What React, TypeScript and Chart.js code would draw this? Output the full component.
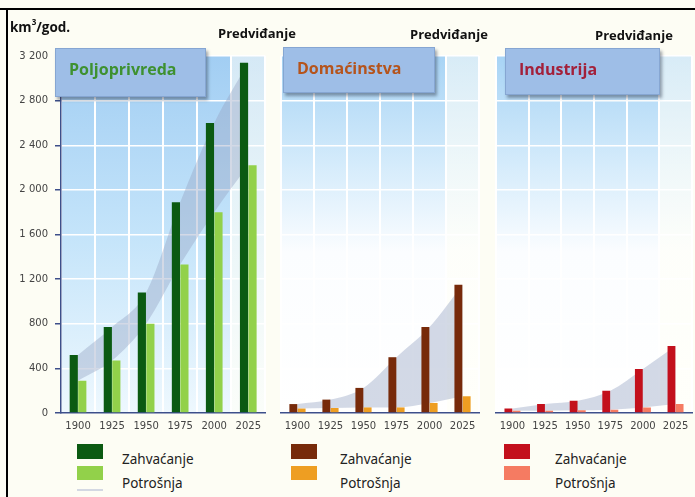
import React, { useEffect, useRef } from 'react';
import { Chart, registerables } from 'chart.js';

Chart.register(...registerables);

const years = ['1900', '1925', '1950', '1975', '2000', '2025'];
const yTickLabels = ['0', '400', '800', '1 200', '1 600', '2 000', '2 400', '2 800', '3 200'];

const agriWithdrawal = [520, 770, 1080, 1890, 2600, 3140];
const agriConsumption = [290, 470, 800, 1330, 1800, 2220];
const domWithdrawal = [80, 120, 225, 500, 770, 1150];
const domConsumption = [40, 45, 50, 50, 90, 150];
const indWithdrawal = [40, 80, 110, 200, 395, 600];
const indConsumption = [20, 20, 25, 30, 50, 80];

const panelTitles = ['Poljoprivreda', 'Domaćinstva', 'Industrija'];
const seriesNames = ['Zahvaćanje', 'Potrošnja'];
const forecastLabel = 'Predviđanje';

type Stop = [number, string];

function bgPlugin(stops: Stop[]) {
  return {
    id: 'panelBg',
    beforeDraw(chart: any) {
      const { ctx, chartArea } = chart;
      const { left, top, right, bottom } = chartArea;
      const g = ctx.createLinearGradient(0, top, 0, bottom);
      stops.forEach(([o, c]) => g.addColorStop(o, c));
      ctx.save();
      ctx.fillStyle = g;
      ctx.fillRect(left, top, right - left, bottom - top);
      const w = (right - left) / years.length;
      const g2 = ctx.createLinearGradient(0, top, 0, bottom);
      g2.addColorStop(0, 'rgba(255,255,248,0.55)');
      g2.addColorStop(1, 'rgba(255,255,248,0.75)');
      ctx.fillStyle = g2;
      ctx.fillRect(right - w, top, w, bottom - top);
      ctx.restore();
    },
  };
}

type PanelProps = {
  left: number;
  width: number;
  yAxisWidth: number;
  showY: boolean;
  withdrawal: number[];
  consumption: number[];
  zColor: string;
  pColor: string;
  stops: Stop[];
};

const H = 440;
const AXIS = '#3d4f8a';
const tickFont = { family: "'DejaVu Sans', sans-serif", size: 10 };

function Panel(p: PanelProps) {
  const ref = useRef<HTMLCanvasElement>(null);
  useEffect(() => {
    if (!ref.current) return;
    const chart = new Chart(ref.current, {
      type: 'bar',
      data: {
        labels: years,
        datasets: [
          {
            type: 'bar',
            label: seriesNames[0],
            data: p.withdrawal,
            backgroundColor: p.zColor,
            order: 1,
            categoryPercentage: 0.5,
            barPercentage: 0.96,
          } as any,
          {
            type: 'bar',
            label: seriesNames[1],
            data: p.consumption,
            backgroundColor: p.pColor,
            order: 1,
            categoryPercentage: 0.5,
            barPercentage: 0.96,
          } as any,
          {
            type: 'line',
            data: p.withdrawal,
            borderColor: 'transparent',
            borderWidth: 0,
            pointRadius: 0,
            cubicInterpolationMode: 'monotone',
            fill: false,
            order: 3,
          } as any,
          {
            type: 'line',
            data: p.consumption,
            borderColor: 'transparent',
            borderWidth: 0,
            pointRadius: 0,
            cubicInterpolationMode: 'monotone',
            fill: '-1',
            backgroundColor: 'rgba(150,165,195,0.42)',
            order: 2,
          } as any,
        ],
      },
      options: {
        animation: false,
        responsive: false,
        layout: { padding: { top: 56, left: 0, right: 0, bottom: 0 } },
        plugins: { legend: { display: false }, tooltip: { enabled: false } },
        scales: {
          x: {
            grid: { color: '#ffffff', lineWidth: 2, offset: true, drawTicks: false },
            border: { color: AXIS, width: 1.5 },
            ticks: { font: tickFont, color: '#444', padding: 7 },
            afterFit: (s: any) => {
              s.height = H - 413;
            },
          },
          y: {
            min: 0,
            max: 3200,
            ticks: {
              stepSize: 400,
              display: p.showY,
              font: tickFont,
              color: '#444',
              padding: 7,
              callback: (_v: any, i: number) => yTickLabels[i],
            },
            grid: {
              color: '#ffffff',
              lineWidth: 1.5,
              drawTicks: p.showY,
              tickLength: 6,
              tickColor: AXIS,
            },
            border: { display: p.showY, color: AXIS, width: 1.5 },
            afterFit: (s: any) => {
              s.width = p.yAxisWidth;
            },
          },
        },
      } as any,
      plugins: [bgPlugin(p.stops)],
    });
    return () => chart.destroy();
  }, []);
  return (
    <canvas
      ref={ref}
      width={p.width}
      height={H}
      style={{ position: 'absolute', left: p.left, top: 0, width: p.width, height: H }}
    />
  );
}

const blue1: Stop[] = [
  [0, '#a2cef3'],
  [0.5, '#c4e4fa'],
  [1, '#eef8fe'],
];
const blue2: Stop[] = [
  [0, '#a8d4f5'],
  [0.3, '#d4ebfb'],
  [0.55, '#fbfdff'],
  [1, '#ffffff'],
];

function TitleBox(props: { left: number; top: number; w: number; h: number; text: string; color: string }) {
  return (
    <div
      style={{
        position: 'absolute',
        left: props.left,
        top: props.top,
        width: props.w,
        height: props.h,
        background: '#9ebee7',
        border: '1px solid #86a6d2',
        boxShadow: '2px 3px 3px rgba(40,50,70,0.45)',
        boxSizing: 'border-box',
        color: props.color,
        fontFamily: "'Open Sans', sans-serif",
        fontWeight: 700,
        fontSize: 16,
        paddingLeft: 13,
        paddingTop: 9,
        lineHeight: '22px',
        zIndex: 2,
      }}
    >
      {props.text}
    </div>
  );
}

function Legend(props: { sx: number; tx: number; z: string; pc: string; line?: boolean }) {
  const txt = {
    position: 'absolute' as const,
    left: props.tx,
    fontFamily: "'Noto Sans', sans-serif",
    fontSize: 13.5,
    color: '#222',
    lineHeight: '16px',
  };
  return (
    <>
      <div style={{ position: 'absolute', left: props.sx, top: 444, width: 26, height: 15, background: props.z }} />
      <div style={{ position: 'absolute', left: props.sx, top: 466, width: 26, height: 14, background: props.pc }} />
      {props.line && (
        <div style={{ position: 'absolute', left: props.sx, top: 489, width: 26, height: 2, background: '#d3d8e2' }} />
      )}
      <div style={{ ...txt, top: 451 }}>{seriesNames[0]}</div>
      <div style={{ ...txt, top: 475 }}>{seriesNames[1]}</div>
    </>
  );
}

export default function App() {
  useEffect(() => {
    document.body.style.margin = '0';
  }, []);
  const label = {
    position: 'absolute' as const,
    fontFamily: "'Open Sans', sans-serif",
    fontWeight: 700,
    fontSize: 13,
    color: '#111',
    zIndex: 2,
    lineHeight: '16px',
  };
  return (
    <div
      style={{
        position: 'relative',
        width: 695,
        height: 497,
        background: '#fdfdf4',
        overflow: 'hidden',
      }}
    >
      <Panel left={0} width={268} yAxisWidth={61} showY={true} withdrawal={agriWithdrawal} consumption={agriConsumption} zColor="#0b5a12" pColor="#92d14a" stops={blue1} />
      <Panel left={278} width={204} yAxisWidth={0} showY={false} withdrawal={domWithdrawal} consumption={domConsumption} zColor="#772a0a" pColor="#ee9e22" stops={blue2} />
      <Panel left={493} width={202} yAxisWidth={0} showY={false} withdrawal={indWithdrawal} consumption={indConsumption} zColor="#c3101c" pColor="#f57b62" stops={blue2} />

      <TitleBox left={55} top={48} w={151} h={49} text={panelTitles[0]} color="#3e9130" />
      <TitleBox left={283} top={47} w={152} h={46} text={panelTitles[1]} color="#b5541c" />
      <TitleBox left={505} top={48} w={155} h={47} text={panelTitles[2]} color="#a3203a" />

      <div style={{ ...label, left: 218, top: 25 }}>{forecastLabel}</div>
      <div style={{ ...label, left: 410, top: 26 }}>{forecastLabel}</div>
      <div style={{ ...label, left: 595, top: 27 }}>{forecastLabel}</div>

      <div
        style={{
          position: 'absolute',
          left: 10,
          top: 18,
          fontFamily: "'Open Sans', sans-serif",
          fontWeight: 700,
          fontSize: 13.5,
          color: '#111',
          lineHeight: '18px',
        }}
      >
        km<sup style={{ fontSize: 8, verticalAlign: 'top', lineHeight: '8px' }}>3</sup>/god.
      </div>

      <Legend sx={77} tx={122} z="#0b5a12" pc="#92d14a" line />
      <Legend sx={291} tx={340} z="#772a0a" pc="#ee9e22" />
      <Legend sx={504} tx={555} z="#c3101c" pc="#f57b62" />

      <div style={{ position: 'absolute', left: 0, top: 8, width: 695, height: 2, background: '#000', zIndex: 3 }} />
      <div style={{ position: 'absolute', left: 6, top: 8, width: 2, height: 489, background: '#000', zIndex: 3 }} />
    </div>
  );
}
